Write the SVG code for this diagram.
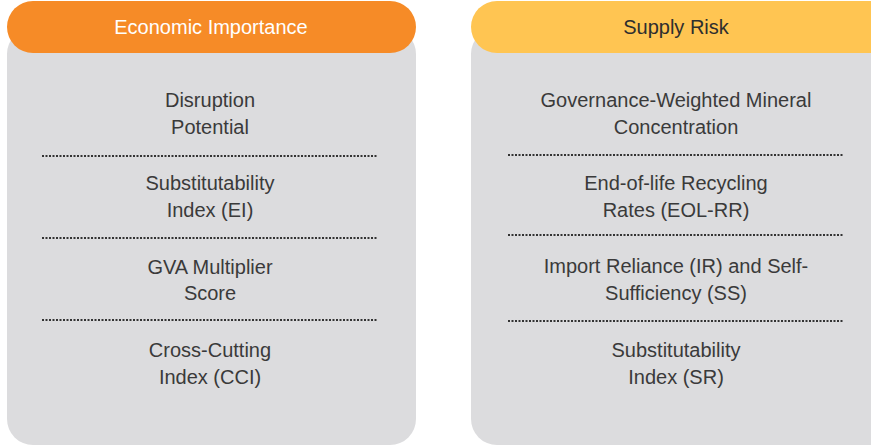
<svg xmlns="http://www.w3.org/2000/svg" width="871" height="446" viewBox="0 0 871 446">
<style>
.panel{fill:#dcdcde}
.t{font-family:"Liberation Sans",Arial,sans-serif;font-size:20px;fill:#3a3a3a;text-anchor:middle}
.h{font-family:"Liberation Sans",Arial,sans-serif;font-size:20px;text-anchor:middle}
.sep{stroke:#333;stroke-width:2;stroke-dasharray:2 1.5}
</style>
<rect x="0" y="0" width="871" height="446" fill="#ffffff"/>
<g id="economic-importance">
<rect class="panel" x="7" y="28" width="409" height="417" rx="26"/>
<rect x="7" y="1" width="409" height="52" rx="26" fill="#f68b27"/>
<text class="h" x="211" y="34" fill="#ffffff">Economic Importance</text>
<text class="t" x="210" y="107">Disruption</text>
<text class="t" x="210" y="134">Potential</text>
<text class="t" x="210" y="190">Substitutability</text>
<text class="t" x="210" y="217">Index (EI)</text>
<text class="t" x="210" y="274">GVA Multiplier</text>
<text class="t" x="210" y="300">Score</text>
<text class="t" x="210" y="357">Cross-Cutting</text>
<text class="t" x="210" y="384">Index (CCI)</text>
</g>
<g id="supply-risk">
<rect class="panel" x="471" y="28" width="430" height="417" rx="26"/>
<rect x="471" y="1" width="430" height="52" rx="26" fill="#ffc552"/>
<text class="h" x="676" y="34" fill="#2e2e2e">Supply Risk</text>
<text class="t" x="676" y="107">Governance-Weighted Mineral</text>
<text class="t" x="676" y="134">Concentration</text>
<text class="t" x="676" y="190">End-of-life Recycling</text>
<text class="t" x="676" y="217">Rates (EOL-RR)</text>
<text class="t" x="676" y="273">Import Reliance (IR) and Self-</text>
<text class="t" x="676" y="300">Sufficiency (SS)</text>
<text class="t" x="676" y="357">Substitutability</text>
<text class="t" x="676" y="384">Index (SR)</text>
</g>
<g id="connectors">
<line class="sep" x1="42" y1="156" x2="378" y2="156"/>
<line class="sep" x1="42" y1="238" x2="378" y2="238"/>
<line class="sep" x1="42" y1="320" x2="378" y2="320"/>
<line class="sep" x1="508" y1="155" x2="844" y2="155"/>
<line class="sep" x1="508" y1="235" x2="844" y2="235"/>
<line class="sep" x1="508" y1="321" x2="844" y2="321"/>
</g>
</svg>
